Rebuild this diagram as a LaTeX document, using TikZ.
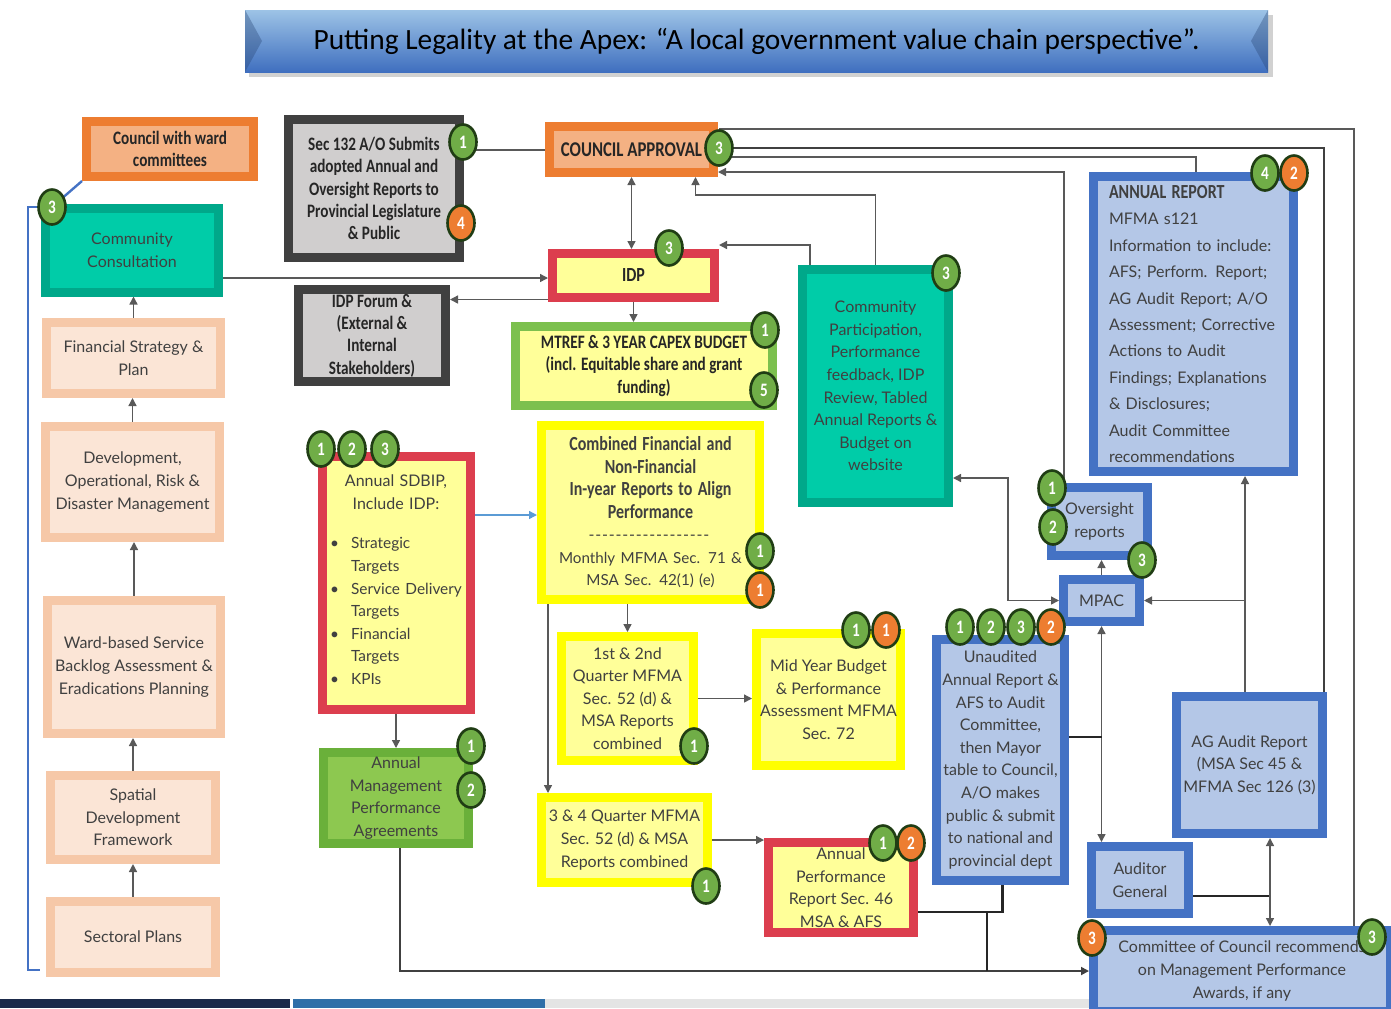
\documentclass[tikz,border=0pt]{standalone}
\usepackage{fontspec}
\newfontfamily\gothic{Lato}
\newfontfamily\condb[FakeStretch=0.8]{Carlito}
\newfontfamily\titlefont{Carlito}
\usetikzlibrary{shapes.geometric,arrows.meta,backgrounds}

\definecolor{txtgray}{HTML}{404040}
\definecolor{linegray}{HTML}{595959}
\definecolor{peachfill}{HTML}{FBE5D6}
\definecolor{peachedge}{HTML}{F6C8A8}
\definecolor{orangeedge}{HTML}{ED7D31}
\definecolor{orangefill}{HTML}{F4B183}
\definecolor{tealfill}{HTML}{00CCA8}
\definecolor{tealedge}{HTML}{00A88A}
\definecolor{greyedge}{HTML}{404040}
\definecolor{greyfill}{HTML}{D0CECE}
\definecolor{rededge}{HTML}{DC3E4E}
\definecolor{paleyellow}{HTML}{FFFF99}
\definecolor{brightyellow}{HTML}{FFFF00}
\definecolor{limeedge}{HTML}{7CC04E}
\definecolor{greenfill}{HTML}{8DC850}
\definecolor{greenedge}{HTML}{6AB03A}
\definecolor{blueedge}{HTML}{4472C4}
\definecolor{bluefill}{HTML}{B4C7E7}
\definecolor{badgegreen}{HTML}{70AD47}
\definecolor{badgeorange}{HTML}{ED7D31}
\definecolor{badgerim}{HTML}{203D14}
\definecolor{arrowblue}{HTML}{5B9BD5}
\definecolor{titletop}{HTML}{9DC3E6}
\definecolor{titlebottom}{HTML}{3F6FBF}
\definecolor{navyband}{HTML}{1B2A4A}
\definecolor{skyband}{HTML}{2F6FA8}
\definecolor{greyband}{HTML}{E4E4E4}

\tikzset{
  box/.style={draw, line width=4.5pt, align=center, inner sep=1pt, text=txtgray,
    font=\gothic\fontsize{8}{11.3}\selectfont},
  heavy/.style={text=black!85, font=\condb\bfseries\fontsize{9.5}{11.2}\selectfont},
  peach/.style={box, draw=peachedge, fill=peachfill},
  orangebox/.style={box, draw=orangeedge, fill=orangefill},
  tealbox/.style={box, draw=tealedge, fill=tealfill},
  greybox/.style={box, draw=greyedge, fill=greyfill},
  redbox/.style={box, draw=rededge, fill=paleyellow},
  limebox/.style={box, draw=limeedge, fill=paleyellow},
  yellowbox/.style={box, draw=brightyellow, fill=paleyellow},
  greenbox/.style={box, draw=greenedge, fill=greenfill},
  bluebox/.style={box, draw=blueedge, fill=bluefill},
  badge/.style={ellipse, draw=badgerim, line width=1.3pt, fill=badgegreen, text=white,
    font=\condb\bfseries\fontsize{9.5}{10}\selectfont, minimum width=13.5pt, minimum height=17.5pt, inner sep=0pt},
  obadge/.style={badge, fill=badgeorange},
  plain/.style={draw=linegray, line width=0.7pt},
  conn/.style={plain, -{Triangle[length=4pt,width=4pt]}},
  twoway/.style={plain, {Triangle[length=4pt,width=4pt]}-{Triangle[length=4pt,width=4pt]}},
  heavyline/.style={draw=black!85, line width=1.4pt},
  bracket/.style={draw=blueedge, line width=1.2pt}
}

\begin{document}
\begin{tikzpicture}[x=0.5pt, y=-0.5pt]
\useasboundingbox (0,0) rectangle (1391,1008);

% slide band at the bottom
\fill[navyband] (0,999) rectangle (290,1008);
\fill[skyband] (293,999) rectangle (545,1008);
\fill[greyband] (545,999) rectangle (1100,1008);

% title banner
\fill[black!18] (249,15) rectangle (1273,77);
\shade[top color=titletop, bottom color=titlebottom] (245,10) rectangle (1268,72);
\fill[titlebottom!60!black, opacity=.35] (245,10) -- (262,41) -- (245,72) -- cycle;
\fill[titlebottom!60!black, opacity=.35] (1268,10) -- (1251,41) -- (1268,72) -- cycle;
\node[font=\titlefont\fontsize{14.7}{16}\selectfont] (title) at (756.5,41)
  {Putting Legality at the Apex: “A local government value chain perspective”.};

% left column
\node[orangebox, heavy, minimum width=83.5pt, minimum height=27.5pt] (wardcom) at (170,149) {Council with ward\\committees};
\node[tealbox, minimum width=86.5pt, minimum height=42pt] (consult) at (132,250) {Community\\Consultation};
\node[peach, minimum width=87pt, minimum height=35.5pt] (finplan) at (133.5,358) {Financial Strategy \&\\Plan};
\node[peach, minimum width=87pt, minimum height=55.5pt] (devrisk) at (132.5,482) {Development,\\Operational, Risk \&\\Disaster Management};
\node[peach, minimum width=86.5pt, minimum height=66.5pt] (backlog) at (134,667) {Ward-based Service\\Backlog Assessment \&\\Eradications Planning};
\node[peach, minimum width=82.5pt, minimum height=42pt] (spatial) at (133,817.5) {Spatial\\Development\\Framework};
\node[peach, minimum width=82.5pt, minimum height=35.5pt] (sectoral) at (133,937) {Sectoral Plans};

% planning boxes
\node[greybox, heavy, minimum width=85.5pt, minimum height=69pt] (sec132) at (374,188.5)
  {Sec 132 A/O Submits\\adopted Annual and\\Oversight Reports to\\Provincial Legislature\\\& Public};
\node[greybox, heavy, minimum width=73.5pt, minimum height=46pt] (forum) at (372,335.5)
  {IDP Forum \&\\(External \&\\Internal\\Stakeholders)};
\node[orangebox, heavy, font=\condb\bfseries\fontsize{10.5}{12}\selectfont, minimum width=82pt, minimum height=23pt] (council) at (631.5,149.5) {COUNCIL APPROVAL};
\node[redbox, heavy, font=\condb\bfseries\fontsize{10}{12}\selectfont, minimum width=81pt, minimum height=22pt] (idp) at (633.5,275.5) {IDP};
\node[limebox, heavy, minimum width=128.5pt, minimum height=39.5pt] (mtref) at (644,366)
  {MTREF \& 3 YEAR CAPEX BUDGET\\(incl. Equitable share and grant\\funding)};
\node[tealbox, minimum width=73pt, minimum height=116.5pt] (partic) at (875.5,386)
  {Community\\Participation,\\Performance\\feedback, IDP\\Review, Tabled\\Annual Reports \&\\Budget on\\website};

% in-year reporting
\node[redbox, text width=68pt, minimum width=74pt, minimum height=126.5pt] (sdbip) at (396,583)
  {Annual SDBIP,\\Include IDP:\\[11pt]
   {\fontsize{7.7}{11.3}\selectfont
   \begin{tabular}{@{}l@{\hspace{6pt}}l@{}}
   \textbullet & Strategic\\
               & Targets\\
   \textbullet & Service Delivery\\
               & Targets\\
   \textbullet & Financial\\
               & Targets\\
   \textbullet & KPIs
   \end{tabular}}};
\node[greenbox, minimum width=72.5pt, minimum height=45.5pt] (agreem) at (396,798)
  {Annual\\Management\\Performance\\Agreements};
\node[yellowbox, text width=105pt, minimum width=109pt, minimum height=87pt] (combined) at (650.5,512.5)
  {{\condb\bfseries\fontsize{10}{11.2}\selectfont Combined Financial and\\Non-Financial\\In-year Reports to Align\\Performance\par}
   \makebox[62pt]{\leaders\hbox{-\kern.4pt}\hfill}\\
   {\fontsize{7.6}{11.3}\selectfont Monthly MFMA Sec. 71 \&\\MSA Sec. 42(1) (e)\par}};
\node[yellowbox, minimum width=66pt, minimum height=62pt] (quart12) at (627.5,698.5)
  {1st \& 2nd\\Quarter MFMA\\Sec. 52 (d) \&\\MSA Reports\\combined};
\node[yellowbox, minimum width=72pt, minimum height=66pt] (midyear) at (828.5,699.5)
  {Mid Year Budget\\\& Performance\\Assessment MFMA\\Sec. 72};
\node[yellowbox, minimum width=83pt, minimum height=42.5pt] (quart34) at (624.5,840)
  {3 \& 4 Quarter MFMA\\Sec. 52 (d) \& MSA\\Reports combined};
\node[redbox, minimum width=72.5pt, minimum height=45pt] (annperf) at (841,887.5)
  {Annual\\Performance\\Report Sec. 46\\MSA \& AFS};

% oversight and audit
\node[bluebox, align=left, text width=84.5pt, minimum width=100pt, minimum height=147.5pt,
  font=\gothic\fontsize{8}{13.2}\selectfont] (annrep) at (1193.5,324)
  {{\condb\bfseries\fontsize{10}{11}\selectfont ANNUAL REPORT}\\
   MFMA s121\\Information to include:\\AFS; Perform. Report;\\AG Audit Report; A/O\\Assessment; Corrective\\
   Actions to Audit\\Findings; Explanations\\\& Disclosures;\\Audit Committee\\recommendations};
\node[bluebox, minimum width=48pt, minimum height=34pt] (oversight) at (1099.5,521.5) {Oversight\\reports};
\node[bluebox, minimum width=38pt, minimum height=21pt] (mpac) at (1101.5,600.5) {MPAC};
\node[bluebox, minimum width=64pt, minimum height=120.5pt] (unaudited) at (1000.5,760)
  {Unaudited\\Annual Report \&\\AFS to Audit\\Committee,\\then Mayor\\table to Council,\\A/O makes\\public \& submit\\to national and\\provincial dept};
\node[bluebox, minimum width=48.5pt, minimum height=33.5pt] (auditor) at (1140,880) {Auditor\\General};
\node[bluebox, minimum width=73pt, minimum height=68.5pt] (agaudit) at (1249.5,765)
  {AG Audit Report\\(MSA Sec 45 \&\\MFMA Sec 126 (3)};
\node[bluebox, minimum width=148.5pt, minimum height=40.5pt] (awards) at (1242,971)
  {Committee of Council recommends\\on Management Performance\\Awards, if any};

% badges
\node[badge] (bcons) at (52,207) {3};
\node[badge] (bsec1) at (463,142) {1};
\node[obadge] (bsec4) at (461,223) {4};
\node[badge] (bcouncil) at (719,148) {3};
\node[badge] (bidp) at (669,248) {3};
\node[badge] (bmtref1) at (765,330) {1};
\node[badge] (bmtref5) at (764,390) {5};
\node[badge] (bpartic) at (946,273) {3};
\node[badge] (brep4) at (1265,173) {4};
\node[obadge] (brep2) at (1294,173) {2};
\node[badge] (bsd1) at (321,449) {1};
\node[badge] (bsd2) at (352,449) {2};
\node[badge] (bsd3) at (385,449) {3};
\node[badge] (bagr1) at (471,746) {1};
\node[badge] (bagr2) at (471,790) {2};
\node[badge] (bcomb1) at (760,551) {1};
\node[obadge] (bcomb1o) at (760,590) {1};
\node[badge] (bq12) at (694,746) {1};
\node[badge] (bmid1) at (856,630) {1};
\node[obadge] (bmid1o) at (886,630) {1};
\node[badge] (bq34) at (706,886) {1};
\node[badge] (bperf1) at (883,843) {1};
\node[obadge] (bperf2) at (911,843) {2};
\node[badge] (bov1) at (1052,488) {1};
\node[badge] (bov2) at (1053,527) {2};
\node[badge] (bov3) at (1142,560) {3};
\node[badge] (bun1) at (960,627) {1};
\node[badge] (bun2) at (991,627) {2};
\node[badge] (bun3) at (1021,627) {3};
\node[obadge] (bun2o) at (1051,627) {2};
\node[obadge] (baw3o) at (1092,938) {3};
\node[badge] (baw3) at (1372,937) {3};

\begin{scope}[on background layer]
% left column chain
\draw[bracket] (wardcom.south west) -- (bcons.center);
\draw[bracket] (bcons.center) -- ++(-24,0) |- ([xshift=-3pt,yshift=3.5pt]sectoral.south west);
\draw[conn] (sectoral.north) -- (sectoral.north |- spatial.south);
\draw[conn] (spatial.north) -- (spatial.north |- backlog.south);
\draw[conn] (backlog.north) -- (backlog.north |- devrisk.south);
\draw[conn] (devrisk.north) -- (devrisk.north |- finplan.south);
\draw[conn] (finplan.north) -- (finplan.north |- consult.south);
\draw[conn] ([yshift=-14pt]consult.east) -- ([yshift=-14pt]consult.east -| idp.west);
\draw[conn] ([yshift=-12pt]idp.west) -- ([yshift=-12pt]idp.west -| forum.east);

% council and IDP
\draw[plain] ([yshift=19.25pt]sec132.east) -- ([yshift=19.25pt]sec132.east -| council.west);
\draw[twoway] (council.south) -- (council.south |- idp.north);
\draw[conn] (idp.south) -- (idp.south |- mtref.north);
\draw[conn] ([xshift=6pt]partic.north west) |- ([yshift=2pt]idp.north east);
\draw[conn] (partic.north) -- ++(0,-70) -| ([xshift=32pt]council.south);

% lines back to council
\draw[plain, line width=0.9pt] (bcouncil.north) -| ([xshift=56pt]awards.north);
\draw[plain, draw=txtgray, line width=1.1pt] (bcouncil.center) -| ([xshift=-1.5pt]agaudit.north east);
\draw[plain] ([yshift=-4.5pt]bcouncil.center) -| ([xshift=1.25pt]annrep.north);
\draw[conn] ([xshift=8.5pt]oversight.north west) |- ([yshift=2.5pt]council.south east);

% oversight loop
\draw[twoway] ([yshift=-46pt]partic.east) -- ++(55,0) |- (mpac.west);
\draw[conn] (mpac.north) -- (mpac.north |- oversight.south);
\draw[conn] ([xshift=-2.25pt]agaudit.north) -- ([xshift=-2.25pt]agaudit.north |- annrep.south);
\draw[conn] ([xshift=-2.25pt]agaudit.north |- mpac.east) -- (mpac.east);
\draw[twoway] (mpac.south) -- (mpac.south |- auditor.north);
\draw[heavyline] ([yshift=11.5pt]unaudited.east) -- ([yshift=11.5pt]unaudited.east -| mpac.south);
\coordinate (agfoot) at ([xshift=10.25pt]agaudit.south);
\draw[heavyline, line width=1.1pt] ([yshift=-8pt]auditor.east) -- ([yshift=-8pt]auditor.east -| agfoot);
\draw[twoway] (agfoot) -- (agfoot |- awards.north);

% in-year reporting
\draw[conn, draw=arrowblue, -{Triangle[length=4pt,width=4pt,fill=arrowblue]}]
  ([yshift=34pt]sdbip.east) -- ([yshift=34pt]sdbip.east -| combined.west);
\draw[conn] (sdbip.south) -- (sdbip.south |- agreem.north);
\draw[conn, draw=txtgray, line width=0.9pt] ([xshift=2pt]agreem.south) |- (awards.west);
\draw[conn] (quart12.north |- combined.south) -- (quart12.north);
\draw[conn] ([xshift=5.5pt]combined.south west) -- ([xshift=5.5pt]combined.south west |- quart34.north);
\draw[conn] (quart12.east) -- (quart12.east -| midyear.west);
\draw[conn] (quart34.east) -- (quart34.east -| annperf.west);
\draw[heavyline] ([yshift=-12.25pt]annperf.east) -| ([xshift=1pt]unaudited.south);
\coordinate (perfjoin) at ([xshift=34.5pt,yshift=-12.25pt]annperf.east);
\draw[heavyline] (perfjoin) -- (perfjoin |- awards.west);
\end{scope}

\end{tikzpicture}
\end{document}
